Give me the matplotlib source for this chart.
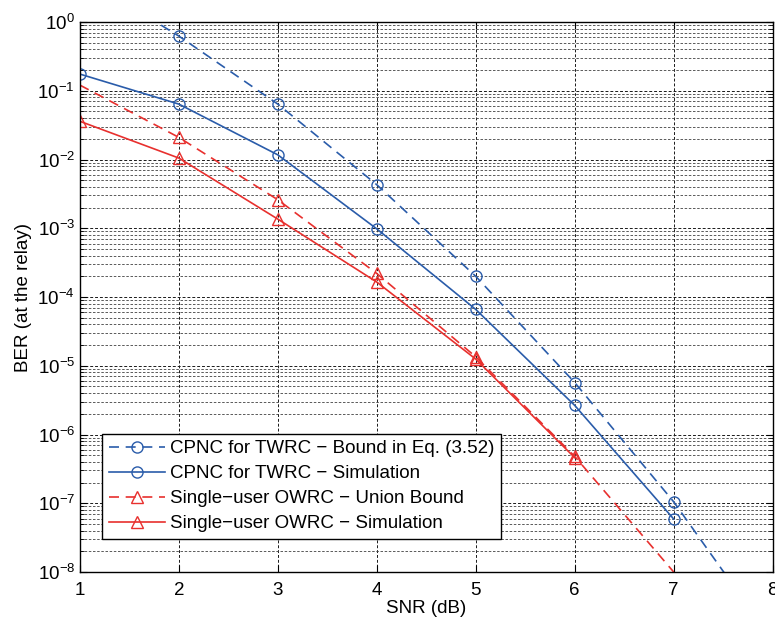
import numpy as np
import matplotlib.pyplot as plt
from matplotlib.ticker import LogLocator, NullFormatter

plt.rcParams['font.family'] = ['Liberation Sans', 'DejaVu Sans']

# SNR in dB
snr = [1, 2, 3, 4, 5, 6, 7, 8]

# CPNC for TWRC - bound (first and last points lie outside the axes)
ber_cpnc_bound = [4.8, 0.625, 0.064, 4.3e-3, 2.0e-4, 5.7e-6, 1.05e-7, 1.0e-9]
# CPNC for TWRC - simulation
snr_cpnc_sim = [1, 2, 3, 4, 5, 6, 7]
ber_cpnc_sim = [0.175, 0.064, 0.0117, 9.8e-4, 6.6e-5, 2.65e-6, 5.9e-8]
# single-user OWRC - union bound
snr_owrc_bound = [1, 2, 3, 4, 5, 6, 7]
ber_owrc_bound = [0.121, 0.021, 2.6e-3, 2.2e-4, 1.35e-5, 4.8e-7, 1.0e-8]
# single-user OWRC - simulation
snr_owrc_sim = [1, 2, 3, 4, 5, 6]
ber_owrc_sim = [0.036, 0.0105, 1.36e-3, 1.65e-4, 1.25e-5, 4.6e-7]

labels = ['CPNC for TWRC \u2212 Bound in Eq. (3.52)',
          'CPNC for TWRC \u2212 Simulation',
          'Single\u2212user OWRC \u2212 Union Bound',
          'Single\u2212user OWRC \u2212 Simulation']

blue = '#2a5caa'
red = '#e8302e'
fs = 13.5

fig = plt.figure(figsize=(7.75, 6.2), dpi=100)
ax = fig.add_axes([0.103, 0.0774, 0.894, 0.8871])

ms = 8
lw = 1.2
ax.plot(snr, ber_cpnc_bound, '--', color=blue, lw=lw, marker='o', ms=ms,
        mfc='none', mew=1.0, dashes=(6, 4), label=labels[0])
ax.plot(snr_cpnc_sim, ber_cpnc_sim, '-', color=blue, lw=lw, marker='o', ms=ms,
        mfc='none', mew=1.0, label=labels[1])
ax.plot(snr_owrc_bound, ber_owrc_bound, '--', color=red, lw=lw, marker='^', ms=ms,
        mfc='none', mew=1.0, dashes=(6, 4), markevery=[1, 2, 3, 4, 5], label=labels[2])
ax.plot(snr_owrc_sim, ber_owrc_sim, '-', color=red, lw=lw, marker='^', ms=ms,
        mfc='none', mew=1.0, label=labels[3])

ax.set_yscale('log')
ax.set_xlim(1, 8)
ax.set_ylim(1e-8, 1)
ax.set_xticks(snr)
ax.yaxis.set_major_locator(LogLocator(base=10, numticks=20))
ax.yaxis.set_minor_locator(LogLocator(base=10, subs=np.arange(2, 10), numticks=20))
ax.yaxis.set_minor_formatter(NullFormatter())

ax.grid(True, which='major', color='0.1', ls=(0, (3, 2)), lw=0.7)
ax.grid(True, which='minor', axis='y', color='0.25', ls=(0, (3, 2)), lw=0.6)
ax.tick_params(which='both', direction='in', top=True, right=True, labelsize=fs)
ax.tick_params(which='major', length=5)
ax.tick_params(which='minor', length=3)
ax.tick_params(axis='x', pad=7)
for s in ax.spines.values():
    s.set_linewidth(1.0)

ax.set_xlabel('SNR (dB)', fontsize=fs, labelpad=1)
ax.set_ylabel('BER (at the relay)', fontsize=fs, labelpad=4)

leg = ax.legend(loc='lower left', bbox_to_anchor=(0.032, 0.06), borderaxespad=0,
                fontsize=fs, frameon=True, fancybox=False, edgecolor='black',
                framealpha=1, handlelength=3.0, handletextpad=0.3, borderpad=0.35,
                labelspacing=0.42)
leg.get_frame().set_linewidth(1.0)

fig.savefig('out.png', dpi=100)
